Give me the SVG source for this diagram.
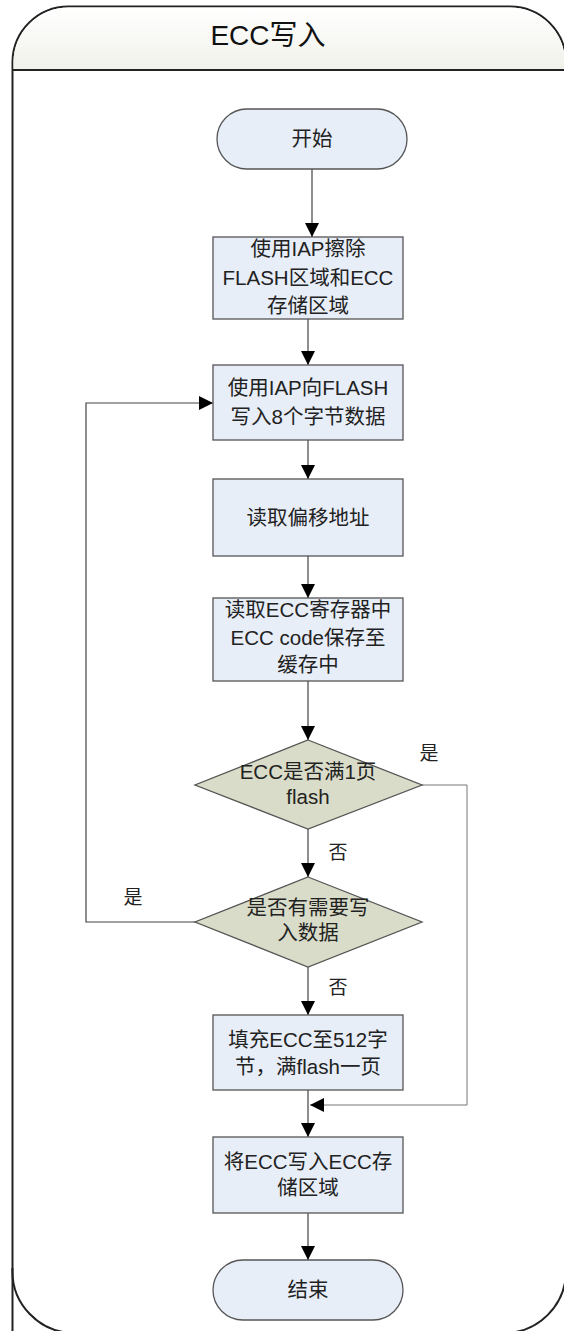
<svg xmlns="http://www.w3.org/2000/svg" width="564" height="1331" viewBox="0 0 564 1331">
<defs>
<linearGradient id="hdr" x1="0" y1="0" x2="0" y2="1">
<stop offset="0" stop-color="#ffffff"/>
<stop offset="1" stop-color="#f1f1ea"/>
</linearGradient>
<marker id="arr" markerUnits="userSpaceOnUse" markerWidth="16" markerHeight="16" viewBox="0 0 16 16" refX="15" refY="8" orient="auto">
<path d="M1,1 L15,8 L1,15 Z" fill="#000"/>
</marker>
<style>
.box{fill:#e8eef8;stroke:#555;stroke-width:1.3}
.dia{fill:#d9dcc8;stroke:#555;stroke-width:1.3}
.t{font-family:"Liberation Sans","Noto Sans CJK SC",sans-serif;font-size:20.5px;fill:#222;text-anchor:middle}
.lbl{font-family:"Liberation Sans","Noto Sans CJK SC",sans-serif;font-size:19px;fill:#222;text-anchor:middle}
.c{fill:none;stroke:#444;stroke-width:1.2}
.c2{fill:none;stroke:#777;stroke-width:1}
</style>
</defs>
<g id="frame">
<path d="M12.5,1340 L12.5,62 A56,56 0 0 1 68.5,6.5 L510,6.5 A56,56 0 0 1 566,62 L566,1340" fill="#fff" stroke="#222" stroke-width="2"/>
<path d="M13.5,70 L13.5,62 A55,55 0 0 1 68.5,7.5 L510,7.5 A55,55 0 0 1 565,62 L565,70 Z" fill="url(#hdr)"/>
<line x1="12.5" y1="70" x2="566" y2="70" stroke="#222" stroke-width="2"/>
<path d="M12.5,1268 A62,62 0 0 0 74.5,1333" fill="none" stroke="#222" stroke-width="2"/>
<path d="M504,1333 A62,62 0 0 0 566,1271" fill="none" stroke="#222" stroke-width="2"/>
<text x="268" y="45" font-family="Liberation Sans,Noto Sans CJK SC,sans-serif" font-size="28" fill="#111" text-anchor="middle">ECC写入</text>
</g>
<g id="connectors">
<line class="c" x1="312" y1="169" x2="312" y2="237" marker-end="url(#arr)"/>
<line class="c" x1="308" y1="319" x2="308" y2="365" marker-end="url(#arr)"/>
<line class="c" x1="308" y1="440" x2="308" y2="479" marker-end="url(#arr)"/>
<line class="c" x1="308" y1="556" x2="308" y2="598" marker-end="url(#arr)"/>
<line class="c" x1="308" y1="681" x2="308" y2="740" marker-end="url(#arr)"/>
<line class="c" x1="308" y1="829" x2="308" y2="877" marker-end="url(#arr)"/>
<line class="c" x1="308" y1="967" x2="308" y2="1015" marker-end="url(#arr)"/>
<line class="c" x1="308" y1="1090" x2="308" y2="1137" marker-end="url(#arr)"/>
<line class="c" x1="308" y1="1213" x2="308" y2="1260" marker-end="url(#arr)"/>
<polyline class="c" points="195,922 86,922 86,403 213,403" marker-end="url(#arr)"/>
<polyline class="c2" points="422,785 467,785 467,1105 310,1105" marker-end="url(#arr)"/>
<text class="lbl" x="429" y="760">是</text>
<text class="lbl" x="338" y="859">否</text>
<text class="lbl" x="133" y="904">是</text>
<text class="lbl" x="338" y="994">否</text>
</g>
<g id="start">
<rect class="box" x="217" y="109" width="190" height="60" rx="30"/>
<text class="t" x="312" y="146">开始</text>
</g>
<g id="erase">
<rect class="box" x="213" y="237" width="190" height="82"/>
<text class="t" x="308" y="256">使用IAP擦除</text>
<text class="t" x="308" y="285">FLASH区域和ECC</text>
<text class="t" x="308" y="313">存储区域</text>
</g>
<g id="write8">
<rect class="box" x="213" y="365" width="190" height="75"/>
<text class="t" x="308" y="395">使用IAP向FLASH</text>
<text class="t" x="308" y="424">写入8个字节数据</text>
</g>
<g id="offset">
<rect class="box" x="213" y="479" width="190" height="77"/>
<text class="t" x="308" y="525">读取偏移地址</text>
</g>
<g id="readecc">
<rect class="box" x="213" y="598" width="190" height="83"/>
<text class="t" x="308" y="617">读取ECC寄存器中</text>
<text class="t" x="308" y="645">ECC code保存至</text>
<text class="t" x="308" y="672">缓存中</text>
</g>
<g id="full">
<polygon class="dia" points="308,740 422,785 308,829 195,785"/>
<text class="t" x="308" y="779">ECC是否满1页</text>
<text class="t" x="308" y="804">flash</text>
</g>
<g id="more">
<polygon class="dia" points="308,877 422,922 308,967 195,922"/>
<text class="t" x="308" y="915">是否有需要写</text>
<text class="t" x="308" y="940">入数据</text>
</g>
<g id="pad">
<rect class="box" x="213" y="1015" width="190" height="75"/>
<text class="t" x="308" y="1047">填充ECC至512字</text>
<text class="t" x="308" y="1074">节，满flash一页</text>
</g>
<g id="store">
<rect class="box" x="213" y="1137" width="190" height="76"/>
<text class="t" x="308" y="1169">将ECC写入ECC存</text>
<text class="t" x="308" y="1195">储区域</text>
</g>
<g id="end">
<rect class="box" x="213" y="1260" width="190" height="60" rx="30"/>
<text class="t" x="308" y="1297">结束</text>
</g>
</svg>
